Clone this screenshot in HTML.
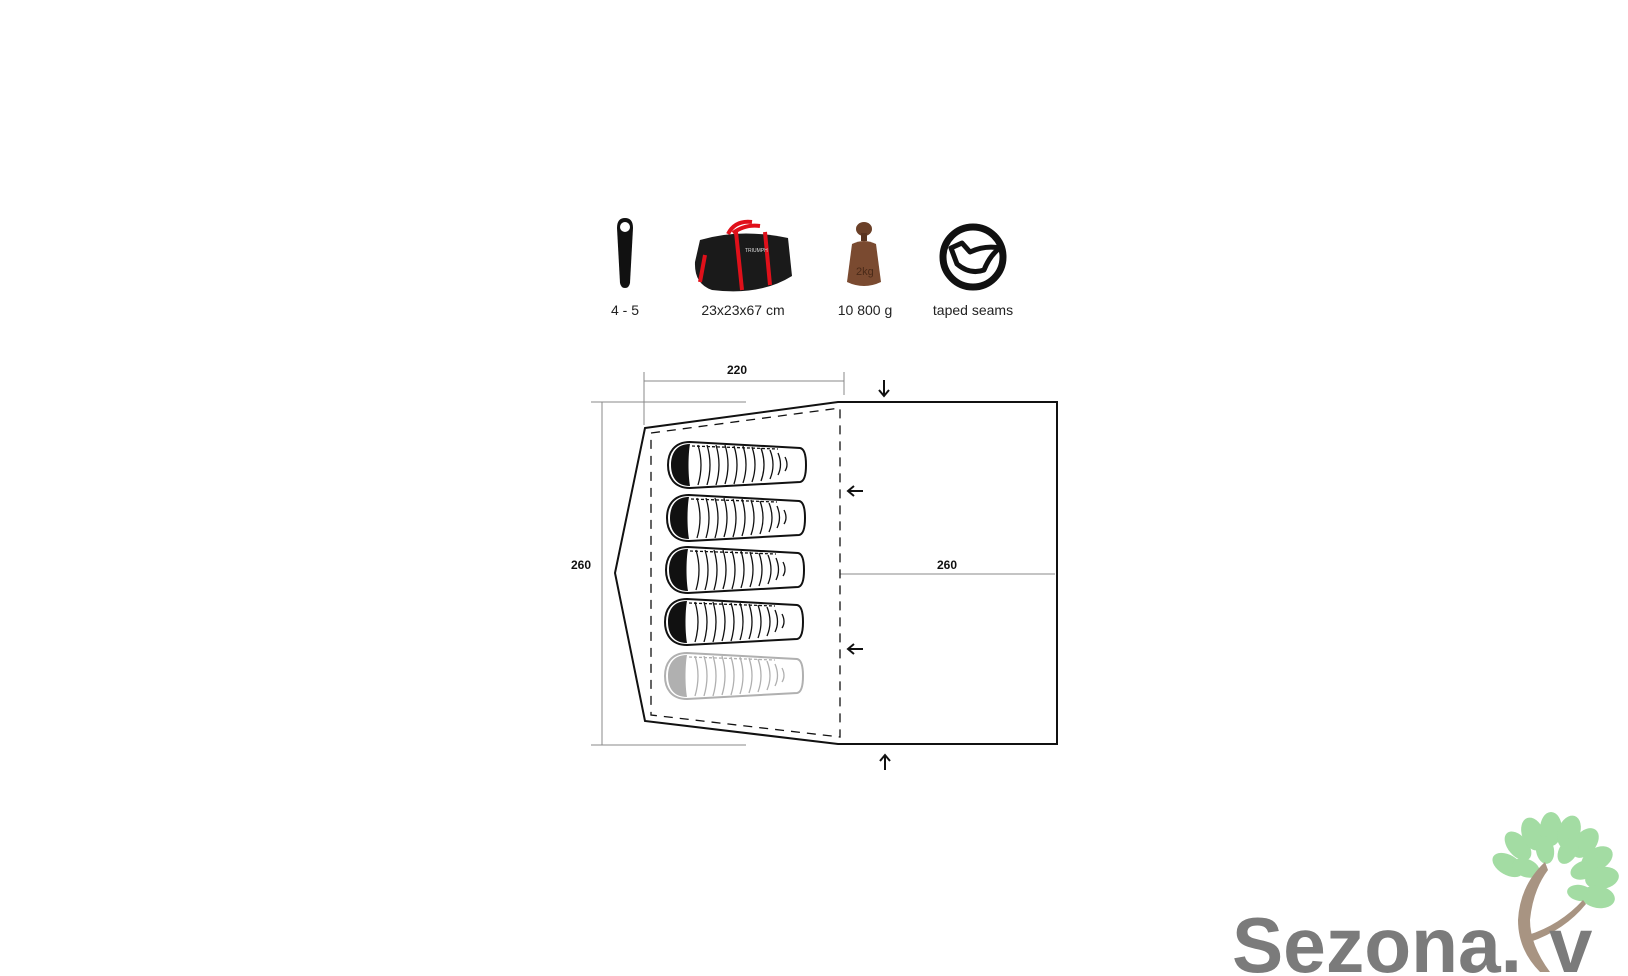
<!DOCTYPE html>
<html><head><meta charset="utf-8"><style>
html,body{margin:0;padding:0;background:#fff;}
svg{display:block;}
text{font-family:"Liberation Sans",sans-serif;}
</style></head><body>
<svg width="1628" height="976" viewBox="0 0 1628 976" xmlns="http://www.w3.org/2000/svg">
<defs>
<g id="bag">
  <path d="M22,-23 C6,-23 0,-12 0,0 C0,12 6,23 22,23 L132,17 Q138,16 138,0 Q138,-16 132,-17 Z" fill="#fff" stroke="currentColor" stroke-width="2"/>
  <path d="M22,-21 C8,-21 3,-11 3,0 C3,11 8,21 22,21 C20,10 20,-10 22,-21 Z" fill="currentColor"/>
  <g fill="none" stroke="currentColor" stroke-width="1.3">
    <path d="M30,-20 Q36,0 30,20"/><path d="M39,-20 Q45,0 39,20"/><path d="M48,-20 Q54,0 48,20"/>
    <path d="M57,-20 Q63,0 57,19"/><path d="M66,-19 Q72,0 66,19"/><path d="M75,-19 Q81,0 75,18"/>
    <path d="M84,-18 Q90,0 84,17"/><path d="M93,-17 Q99,0 93,16"/><path d="M102,-15 Q108,0 102,14"/>
    <path d="M110,-12 Q115,0 110,10"/><path d="M117,-8 Q121,0 117,6"/>
    <path d="M24,-19 L110,-16" stroke-dasharray="3 2"/>
  </g>
</g>
</defs>

<path d="M617,228 Q617,218 625,218 Q633,218 633,228 L630,283 Q629,288 625,288 Q621,288 620,283 Z" fill="#111"/>
<circle cx="625" cy="227" r="5" fill="#fff"/>

<g>
  <path d="M700,240 Q740,228 788,238 L792,276 Q760,296 712,290 Q694,284 695,262 Z" fill="#1a1a1a"/>
  <path d="M728,234 Q735,220 752,222 M733,233 Q745,224 760,226" stroke="#e0101a" stroke-width="4" fill="none"/>
  <path d="M736,232 L742,290 M765,232 L770,285 M705,255 L700,282" stroke="#e0101a" stroke-width="4" fill="none"/>
  <text x="745" y="252" font-size="5" fill="#ddd">TRIUMPH</text>
</g>

<g>
  <ellipse cx="864" cy="229" rx="8" ry="7" fill="#6b4028"/>
  <rect x="861" y="233" width="6" height="8" fill="#5a3420"/>
  <path d="M852,244 Q864,238 876,244 L881,282 Q864,290 847,282 Z" fill="#7a4a30"/>
  <text x="856" y="275" font-size="11" fill="#4a2a18">2kg</text>
</g>

<circle cx="973" cy="257" r="30" fill="none" stroke="#111" stroke-width="7"/>
<path d="M951,248 L957,264 Q970,275 984,270 Q990,255 1000,248 Q985,245 970,252 L962,243 Z" fill="none" stroke="#111" stroke-width="5" stroke-linejoin="round"/>

<g font-size="14" fill="#222" text-anchor="middle">
  <text x="625" y="315">4 - 5</text>
  <text x="743" y="315">23x23x67 cm</text>
  <text x="865" y="315">10 800 g</text>
  <text x="973" y="315">taped seams</text>
</g>

<g stroke="#888" stroke-width="1" fill="none">
  <path d="M644,372 V425 M844,372 V395 M644,381 H844"/>
  <path d="M591,402 H746 M591,745 H746 M602,402 V745"/>
  <path d="M840,574 H1055"/>
</g>
<g font-size="12" font-weight="bold" fill="#111" text-anchor="middle">
  <text x="737" y="374">220</text>
  <text x="581" y="569">260</text>
  <text x="947" y="569">260</text>
</g>

<path d="M645,428 L838,402 L1057,402 L1057,744 L838,744 L645,721 L615,573 Z" fill="none" stroke="#111" stroke-width="2"/>
<path d="M651,433 L840,408 L840,737 L651,715 Z" fill="none" stroke="#111" stroke-width="1.3" stroke-dasharray="9 7"/>

<g stroke="#111" stroke-width="2" fill="none">
  <path d="M884,380 V395 M879,390 L884,396 L889,390"/>
  <path d="M885,770 V756 M880,761 L885,755 L890,761"/>
  <path d="M863,491 H849 M854,486 L848,491 L854,496"/>
  <path d="M863,649 H849 M854,644 L848,649 L854,654"/>
</g>

<use href="#bag" x="668" y="465" color="#111"/>
<use href="#bag" x="667" y="518" color="#111"/>
<use href="#bag" x="666" y="570" color="#111"/>
<use href="#bag" x="665" y="622" color="#111"/>
<use href="#bag" x="665" y="676" color="#b0b0b0"/>

<g>
  <g fill="#9ad99a" opacity="0.9">
    <ellipse cx="1508" cy="865" rx="17" ry="10" transform="rotate(30 1508 865)"/>
    <ellipse cx="1518" cy="846" rx="17" ry="10" transform="rotate(50 1518 846)"/>
    <ellipse cx="1533" cy="834" rx="17" ry="11" transform="rotate(70 1533 834)"/>
    <ellipse cx="1551" cy="829" rx="17" ry="11" transform="rotate(90 1551 829)"/>
    <ellipse cx="1569" cy="832" rx="17" ry="11" transform="rotate(110 1569 832)"/>
    <ellipse cx="1585" cy="843" rx="17" ry="11" transform="rotate(130 1585 843)"/>
    <ellipse cx="1597" cy="859" rx="17" ry="11" transform="rotate(150 1597 859)"/>
    <ellipse cx="1602" cy="878" rx="17" ry="11" transform="rotate(170 1602 878)"/>
    <ellipse cx="1598" cy="897" rx="17" ry="11" transform="rotate(190 1598 897)"/>
    <ellipse cx="1526" cy="868" rx="14" ry="9" transform="rotate(20 1526 868)"/>
    <ellipse cx="1545" cy="850" rx="14" ry="9" transform="rotate(80 1545 850)"/>
    <ellipse cx="1568" cy="851" rx="14" ry="9" transform="rotate(120 1568 851)"/>
    <ellipse cx="1584" cy="870" rx="14" ry="9" transform="rotate(160 1584 870)"/>
    <ellipse cx="1580" cy="893" rx="13" ry="8" transform="rotate(190 1580 893)"/>
  </g>
  <path d="M1545,862 Q1520,885 1518,920 Q1518,950 1540,972 L1550,972 Q1530,945 1530,920 Q1533,890 1548,870 Z" fill="#a89482"/>
  <path d="M1528,935 Q1560,925 1583,900 L1586,904 Q1565,930 1530,942 Z" fill="#a89482"/>
  <text x="1232" y="972" font-size="78" fill="#7b7b7b" font-weight="bold" textLength="290" lengthAdjust="spacingAndGlyphs">Sezona.</text>
  <text x="1549" y="972" font-size="78" fill="#7b7b7b" font-weight="bold">v</text>
</g>
</svg>
</body></html>
